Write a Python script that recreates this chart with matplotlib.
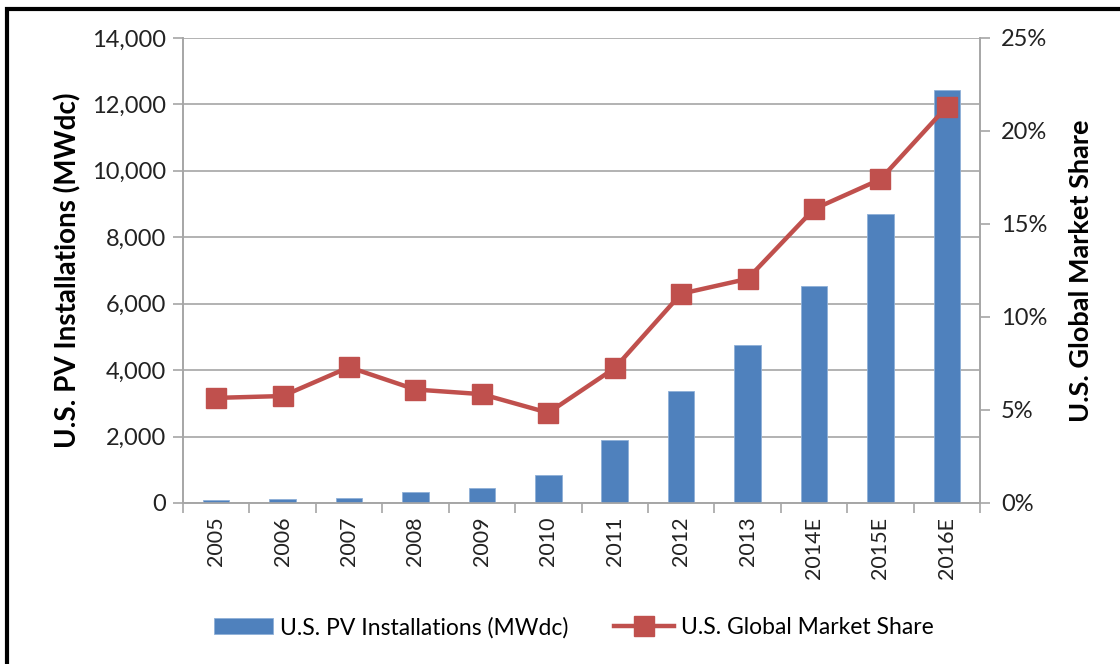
import matplotlib.pyplot as plt
import matplotlib.ticker as mticker
from matplotlib.patches import Rectangle
import numpy as np

years = ['2005', '2006', '2007', '2008', '2009', '2010', '2011', '2012',
         '2013', '2014E', '2015E', '2016E']
installs_mw = [80, 105, 160, 330, 450, 850, 1900, 3370, 4760, 6530, 8700, 12430]
market_share = [5.65, 5.75, 7.3, 6.1, 5.85, 4.85, 7.25, 11.25, 12.05, 15.8, 17.4, 21.3]

bar_color = '#4F81BD'
line_color = '#C0504D'
grid_color = '#A6A6A6'

plt.rcParams['font.family'] = ['Lato', 'DejaVu Sans']

fig = plt.figure(figsize=(11.2, 6.64), dpi=100)
ax = fig.add_axes([0.1634, 0.2425, 0.7116, 0.7003])
ax2 = ax.twinx()

x = np.arange(len(years))
bars = ax.bar(x, installs_mw, width=0.4, color=bar_color, edgecolor='#8FB0D8',
              linewidth=0.6, zorder=3, label='U.S. PV Installations (MWdc)')
line, = ax2.plot(x, market_share, color=line_color, lw=3.2, marker='s',
                 markersize=14, markeredgecolor=line_color, zorder=4,
                 label='U.S. Global Market Share')

ax.set_xlim(-0.5, len(years) - 0.5)
ax.set_ylim(0, 14000)
ax.yaxis.set_major_locator(mticker.MultipleLocator(2000))
ax.yaxis.set_major_formatter(mticker.FuncFormatter(lambda v, p: '{:,.0f}'.format(v)))
ax2.set_ylim(0, 25)
ax2.yaxis.set_major_locator(mticker.MultipleLocator(5))
ax2.yaxis.set_major_formatter(mticker.FuncFormatter(lambda v, p: '{:.0f}%'.format(v)))

ax.grid(axis='y', color=grid_color, lw=1.2, zorder=0)
ax.set_axisbelow(True)

ax.set_xticks(x)
ax.set_xticklabels(years, rotation=90, fontsize=15.5, color='#222222')
ax.xaxis.set_minor_locator(mticker.FixedLocator(np.arange(-0.5, len(years), 1)))
ax.tick_params(axis='x', which='major', length=0, pad=10)
ax.tick_params(axis='x', which='minor', length=7, color=grid_color, width=1.2)
ax.tick_params(axis='y', length=7, color=grid_color, width=1.2, labelsize=17,
               labelcolor='#222222', pad=5)
ax2.tick_params(axis='y', length=7, color=grid_color, width=1.2, labelsize=17,
                labelcolor='#222222', pad=8)

for a in (ax, ax2):
    a.spines['top'].set_visible(False)
    for s in ('left', 'right', 'bottom'):
        a.spines[s].set_color(grid_color)
        a.spines[s].set_linewidth(1.2)

ax.set_ylabel('U.S. PV Installations (MWdc)', fontsize=20, fontweight='bold', labelpad=8)
ax2.set_ylabel('U.S. Global Market Share', fontsize=19.5, fontweight='bold', labelpad=16)

fig.legend(handles=[bars, line], loc='center', bbox_to_anchor=(0.512, 0.055),
           ncol=2, frameon=False, fontsize=16.5, handlelength=2.6,
           columnspacing=2.0, handletextpad=0.3)

# black frame around the chart (cut off at right and bottom)
fig.patches.append(Rectangle((7 / 1120, -0.05), 1.2, 1 - 9 / 664 + 0.05,
                             transform=fig.transFigure, fill=False,
                             edgecolor='black', lw=3, zorder=10))

fig.savefig('out.png', dpi=100)
